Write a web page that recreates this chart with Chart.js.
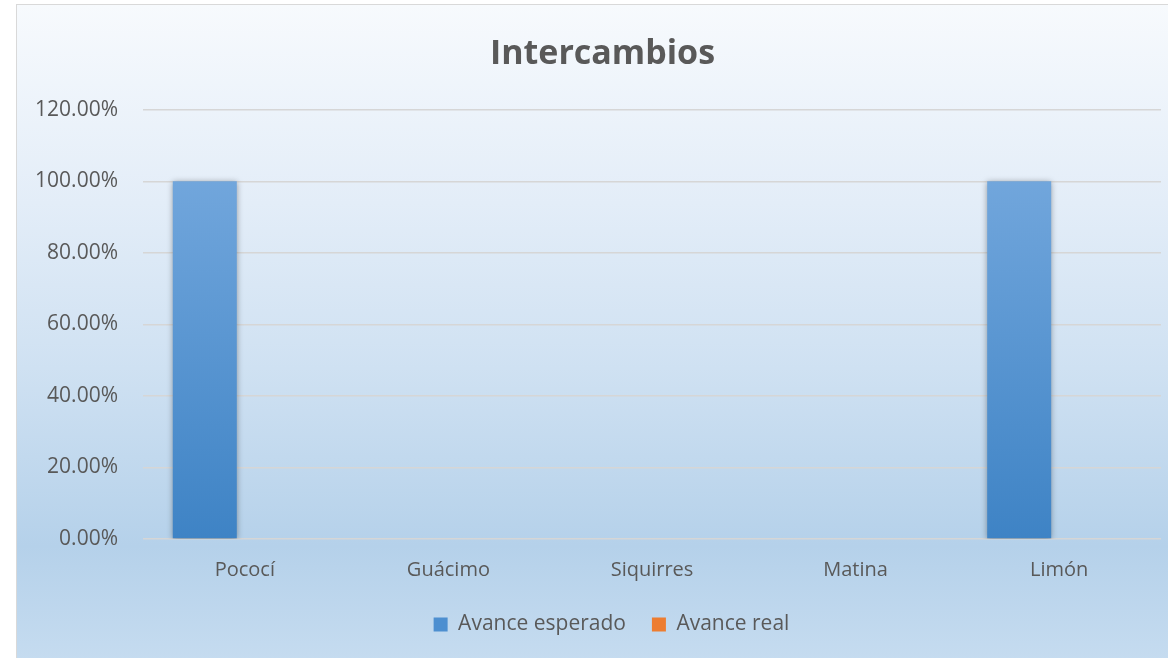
<!DOCTYPE html>
<html>
<head>
<meta charset="utf-8">
<script src="https://cdn.jsdelivr.net/npm/chart.js@4"></script>
<style>
  html, body { margin: 0; padding: 0; background: #fff; overflow: hidden; }
  .frame {
    position: absolute; left: 16px; top: 4px; width: 1160px; height: 660px;
    border: 1.5px solid #d9d9d9;
    background: linear-gradient(to bottom, #f7fafd 0%, #e3edf8 30%, #cfe1f2 55%, #b5d1ea 82%, #c6dcf0 100%);
  }
  .box { position: absolute; left: 0; top: 0; width: 1152px; height: 654px; }
</style>
</head>
<body>
<div class="frame"><div class="box"><canvas id="chart"></canvas></div></div>
<script>
// data
const categories = ["Pococí", "Guácimo", "Siquirres", "Matina", "Limón"];
const avanceEsperado = [1, 0, 0, 0, 1];
const avanceReal = [0, 0, 0, 0, 0];
const yTicks = [0, 0.2, 0.4, 0.6, 0.8, 1.0, 1.2];

const textGray = "#595959";
const fontFamily = "'Open Sans', sans-serif";

// vertical gradient between 100% and 0% on the y scale
function barFill(top, bottom) {
  return (ctx) => {
    const chart = ctx.chart;
    const y = chart.scales.y;
    if (!y || !chart.chartArea) return bottom;
    const g = chart.ctx.createLinearGradient(0, y.getPixelForValue(1), 0, y.getPixelForValue(0));
    g.addColorStop(0, top);
    g.addColorStop(1, bottom);
    return g;
  };
}

// soft shadow under bars, like the office chart
const barShadow = {
  id: "barShadow",
  beforeDatasetsDraw(chart) {
    const c = chart.ctx;
    c.save();
    c.shadowColor = "rgba(0,0,0,0.35)";
    c.shadowBlur = 6;
    c.shadowOffsetX = 0;
    c.shadowOffsetY = 1;
  },
  afterDatasetsDraw(chart) {
    chart.ctx.restore();
  },
};

// the source centres title and legend a bit right of the canvas middle
const nudge = {
  id: "nudge",
  afterLayout(chart) {
    if (chart.legend) { chart.legend.left += 13; chart.legend.right += 13; }
    if (chart.titleBlock) { chart.titleBlock.left += 4; chart.titleBlock.right += 4; }
  },
};

const legendColors = ["#4d8fd0", "#ed7d31"];

new Chart(document.getElementById("chart"), {
  type: "bar",
  data: {
    labels: categories,
    datasets: [
      {
        label: "Avance esperado",
        data: avanceEsperado,
        backgroundColor: barFill("#71a6dc", "#3e83c5"),
      },
      {
        label: "Avance real",
        data: avanceReal,
        backgroundColor: barFill("#f4964f", "#e36c1e"),
      },
    ],
  },
  plugins: [barShadow, nudge],
  options: {
    responsive: true,
    maintainAspectRatio: false,
    animation: false,
    layout: { padding: { left: 19, right: 8, top: 0, bottom: 14 } },
    datasets: {
      bar: { categoryPercentage: 0.786, barPercentage: 0.8 },
    },
    scales: {
      x: {
        grid: { display: false },
        border: { display: false },
        afterFit: (s) => { s.height = 49; },
        ticks: { color: textGray, font: { family: fontFamily, size: 20 }, padding: 11 },
      },
      y: {
        min: 0,
        max: 1.2,
        afterBuildTicks: (s) => { s.ticks = yTicks.map((v) => ({ value: v })); },
        afterFit: (s) => { s.width = 107; },
        border: { display: false },
        grid: { color: "#d6d6d6", lineWidth: 1.5, drawTicks: false },
        ticks: {
          color: textGray,
          padding: 25,
          font: { family: fontFamily, size: 21 },
          callback: (v) => (v * 100).toFixed(2) + "%",
        },
      },
    },
    plugins: {
      title: {
        display: true,
        text: "Intercambios",
        color: textGray,
        font: { family: fontFamily, size: 34, weight: "bold" },
        padding: { top: 29, bottom: 35 },
      },
      legend: {
        position: "bottom",
        labels: {
          color: textGray,
          font: { family: fontFamily, size: 21 },
          boxWidth: 14,
          boxHeight: 14,
          padding: 26,
          generateLabels: (chart) => {
            const items = Chart.defaults.plugins.legend.labels.generateLabels(chart);
            items.forEach((it, i) => {
              it.fillStyle = legendColors[i];
              it.strokeStyle = legendColors[i];
              it.lineWidth = 0;
            });
            return items;
          },
        },
      },
      tooltip: { enabled: false },
    },
  },
});
</script>
</body>
</html>
